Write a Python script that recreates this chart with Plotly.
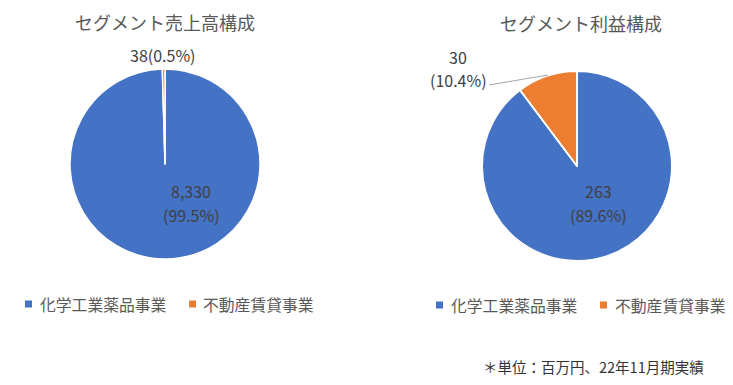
import plotly.graph_objects as go

segments = ["化学工業薬品事業", "不動産賃貸事業"]
sales = [8330, 38]
sales_pct = ["99.5%", "0.5%"]
profit = [263, 30]
profit_pct = ["89.6%", "10.4%"]
colors = ["#4472C4", "#ED7D31"]
titles = ["セグメント売上高構成", "セグメント利益構成"]
note = "＊単位：百万円、22年11月期実績"

W, H = 733, 385
FONT = "Noto Sans CJK JP"

def px(x):
    return x / W

def py(y):
    return 1 - y / H

fig = go.Figure()
fig.add_trace(go.Pie(
    labels=segments, values=sales, sort=False, direction="clockwise", rotation=0,
    marker=dict(colors=colors, line=dict(color="white", width=1.5)),
    textinfo="none", hoverinfo="label+value",
    domain=dict(x=[px(70), px(260)], y=[py(259), py(69)]),
    showlegend=False,
))
fig.add_trace(go.Pie(
    labels=segments, values=profit, sort=False, direction="clockwise", rotation=0,
    marker=dict(colors=colors, line=dict(color="white", width=2)),
    textinfo="none", hoverinfo="label+value",
    domain=dict(x=[px(482), px(672)], y=[py(261), py(71)]),
    showlegend=False,
))

ann = []
def add_text(x, y, text, size=16, color="#404040", xanchor="center", yanchor="middle"):
    ann.append(dict(x=px(x), y=py(y), xref="paper", yref="paper", text=text, showarrow=False,
                    font=dict(family=FONT, size=size, color=color), xanchor=xanchor, yanchor=yanchor))

add_text(165, 22, titles[0], size=18, color="#595959")
add_text(581, 23, titles[1], size=18, color="#595959")
add_text(191, 191, f"{sales[0]:,}")
add_text(191, 215, f"({sales_pct[0]})")
add_text(163, 55, f"{sales[1]:,}({sales_pct[1]})")
add_text(598, 191, f"{profit[0]:,}")
add_text(598, 215, f"({profit_pct[0]})")
add_text(458, 57, f"{profit[1]:,}")
add_text(458, 80, f"({profit_pct[1]})")
add_text(706, 366, note, size=14.5, color="#333333", xanchor="right")

# leader line for the small profit slice
fig.add_shape(type="line", xref="paper", yref="paper", x0=px(489), y0=py(85), x1=px(548), y1=py(75),
              line=dict(color="#A6A6A6", width=1))

# legends (swatch + text) for each pie
legend_rows = [
    (304, [(25, 38), (189, 201)]),
    (305, [(436, 449), (600, 613)]),
]
for yc, items in legend_rows:
    for (sx, tx), name, col in zip(items, segments, colors):
        fig.add_shape(type="rect", xref="paper", yref="paper",
                      x0=px(sx), x1=px(sx + 7), y0=py(yc + 3.5), y1=py(yc - 3.5),
                      fillcolor=col, line=dict(width=0))
        add_text(tx, yc, name, size=15.8, color="#595959", xanchor="left")

fig.update_layout(annotations=ann)
fig.update_layout(
    width=W, height=H, margin=dict(l=0, r=0, t=0, b=0),
    paper_bgcolor="white", plot_bgcolor="white",
    font=dict(family=FONT),
)

fig.write_html("out.html", post_script="document.body.style.margin='0';",
               config={"displayModeBar": False})
